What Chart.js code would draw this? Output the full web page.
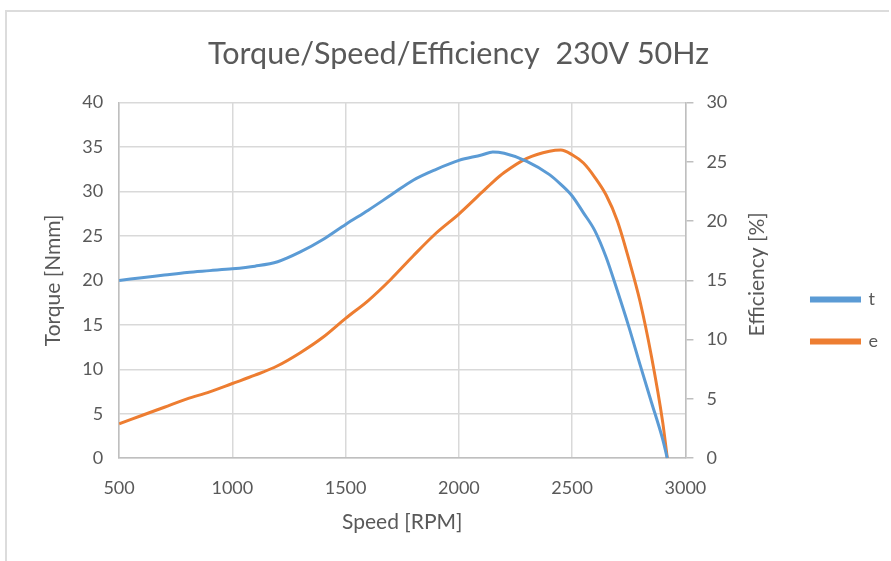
<!DOCTYPE html>
<html>
<head>
<meta charset="utf-8">
<script src="https://cdn.jsdelivr.net/npm/chart.js@4/dist/chart.umd.min.js"></script>
<style>
  html, body { margin: 0; padding: 0; background: #fff; }
  #wrap { width: 891px; height: 561px; position: relative; }
</style>
</head>
<body>
<div id="wrap"><canvas id="motorChart" width="891" height="561"></canvas></div>
<script>
// speed in RPM
const speed = [500, 600, 700, 800, 900, 1000, 1100, 1200, 1300, 1400, 1500, 1600, 1700,
               1800, 1900, 2000, 2100, 2150, 2200, 2300, 2400, 2450, 2500, 2550, 2600, 2650,
               2700, 2750, 2800, 2850, 2900, 2920];
// torque t [Nmm]
const torque = [20.0, 20.3, 20.6, 20.9, 21.1, 21.3, 21.6, 22.1, 23.2, 24.6, 26.3, 27.9, 29.6,
                31.3, 32.5, 33.5, 34.1, 34.45, 34.3, 33.4, 31.9, 30.8, 29.5, 27.6, 25.6, 22.6,
                18.8, 14.8, 10.5, 6.3, 2.1, 0];
// efficiency e [%]
const efficiency = [2.9, 3.6, 4.3, 5.0, 5.6, 6.3, 7.0, 7.8, 8.9, 10.2, 11.8, 13.3, 15.1,
                    17.1, 19.0, 20.6, 22.4, 23.3, 24.1, 25.3, 25.9, 26.0, 25.6, 24.9, 23.7, 22.2,
                    20.0, 16.8, 13.2, 8.6, 3.0, 0];

const speedTicks = [500, 1000, 1500, 2000, 2500, 3000];

const grey = '#595959';
const gridGrey = '#d9d9d9';
const font = 'Lato, "Open Sans", sans-serif';

// light frame at top/left like the original screenshot
const framePlugin = {
    id: 'frame',
    beforeDraw(chart) {
        const ctx = chart.ctx;
        ctx.save();
        ctx.strokeStyle = '#dcdcdc';
        ctx.lineWidth = 2;
        ctx.beginPath();
        ctx.moveTo(6, 561);
        ctx.lineTo(6, 11);
        ctx.lineTo(889, 11);
        ctx.stroke();
        ctx.restore();
    }
};

// right axis title reads bottom-to-top in the original, so draw it ourselves
const rightTitlePlugin = {
    id: 'rightTitle',
    afterDraw(chart) {
        const s = chart.scales.y1;
        const ctx = chart.ctx;
        const x = s.right - 18 - 12.6;
        const y = (chart.chartArea.top + chart.chartArea.bottom) / 2 - 6;
        ctx.save();
        ctx.translate(x, y);
        ctx.rotate(-Math.PI / 2);
        ctx.fillStyle = grey;
        ctx.font = '21px ' + font;
        ctx.textAlign = 'center';
        ctx.textBaseline = 'middle';
        ctx.fillText('Efficiency [%]', 0, 0);
        ctx.restore();
    }
};

new Chart(document.getElementById('motorChart'), {
    type: 'line',
    data: {
        datasets: [{
            label: 't',
            data: speed.map((s, i) => ({ x: s, y: torque[i] })),
            borderColor: '#5b9bd5',
            backgroundColor: '#5b9bd5',
            borderWidth: 3,
            pointRadius: 0,
            cubicInterpolationMode: 'monotone',
            yAxisID: 'y'
        }, {
            label: 'e',
            data: speed.map((s, i) => ({ x: s, y: efficiency[i] })),
            borderColor: '#ed7d31',
            backgroundColor: '#ed7d31',
            borderWidth: 3,
            pointRadius: 0,
            cubicInterpolationMode: 'monotone',
            yAxisID: 'y1'
        }]
    },
    options: {
        responsive: false,
        animation: false,
        layout: { padding: { left: 29, right: 3, top: 0, bottom: 26 } },
        plugins: {
            title: {
                display: true,
                text: 'Torque/Speed/Efficiency  230V 50Hz',
                color: grey,
                font: { family: font, size: 30.5, weight: 'normal' },
                padding: { top: 36, bottom: 30 }
            },
            legend: {
                position: 'right',
                title: {
                    display: true,
                    text: ' ',
                    font: { size: 10 },
                    padding: { top: 47, bottom: 47 }
                },
                labels: {
                    color: grey,
                    font: { family: font, size: 18 },
                    boxWidth: 48,
                    boxHeight: 3,
                    padding: 24
                }
            },
            tooltip: { enabled: false }
        },
        scales: {
            x: {
                type: 'linear',
                min: 500,
                max: 3000,
                afterBuildTicks: axis => { axis.ticks = speedTicks.map(v => ({ value: v })); },
                ticks: { color: grey, font: { family: font, size: 18 }, padding: 19,
                         callback: v => String(v) },
                grid: { color: gridGrey, lineWidth: 1.5, drawTicks: false },
                border: { color: '#bfbfbf', width: 1.5 },
                title: {
                    display: true,
                    text: 'Speed [RPM]',
                    color: grey,
                    font: { family: font, size: 21 },
                    padding: { top: -8, bottom: 0 }
                }
            },
            y: {
                position: 'left',
                min: 0,
                max: 40,
                ticks: { stepSize: 5, color: grey, font: { family: font, size: 18 }, padding: 16 },
                grid: { color: gridGrey, lineWidth: 1.5, drawTicks: false },
                border: { color: '#bfbfbf', width: 1.5 },
                title: {
                    display: true,
                    text: 'Torque [Nmm]',
                    color: grey,
                    font: { family: font, size: 21 },
                    padding: { top: 12, bottom: 0 }
                }
            },
            y1: {
                position: 'right',
                min: 0,
                max: 30,
                ticks: { stepSize: 5, color: grey, font: { family: font, size: 18 }, padding: 13 },
                grid: { drawOnChartArea: false, color: '#bfbfbf', tickLength: 8, lineWidth: 1.5 },
                border: { color: '#bfbfbf', width: 1.5 },
                title: {
                    display: true,
                    text: 'Efficiency [%]',
                    color: 'rgba(0,0,0,0)',
                    font: { family: font, size: 21 },
                    padding: { top: 4, bottom: 18 }
                }
            }
        }
    },
    plugins: [framePlugin, rightTitlePlugin]
});
</script>
</body>
</html>
